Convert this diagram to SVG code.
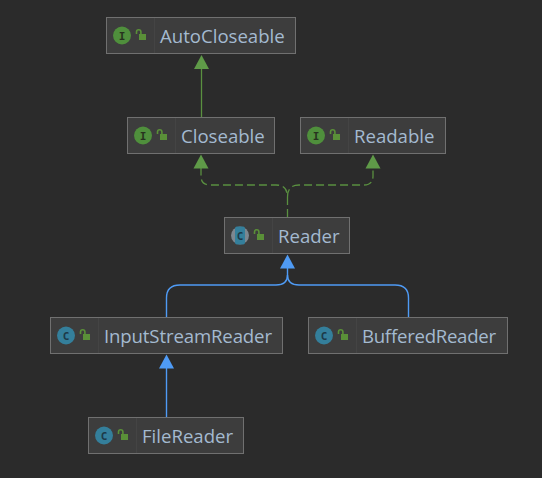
<svg xmlns="http://www.w3.org/2000/svg" width="542" height="478" viewBox="0 0 542 478">
<style>
.b{fill:#3d3d3d;stroke:#707070;stroke-width:1}
.sep{stroke:#444;stroke-width:1}
.t{font-family:"Open Sans","Noto Sans",sans-serif;font-size:18.6px;fill:#a4bad0}
.ci{fill:#4f8f3c}
.cc{fill:#347f9b}
.g{font-family:"DejaVu Sans Mono",monospace;font-size:11px;font-weight:bold;text-anchor:middle}
.gi{fill:#27321f}
.gc{fill:#1d3a4a}
.lk{fill:#5a9038}
.ls{fill:none;stroke:#5a9038;stroke-width:1.6}
.eg{fill:none;stroke:#5a9040;stroke-width:1.300}
.ed{fill:none;stroke:#5a9040;stroke-width:1.300;stroke-dasharray:8 4}
.eb{fill:none;stroke:#4f9bf5;stroke-width:1.400}
</style>
<defs>
<g id="lock"><rect x="3" y="4" width="7" height="6" class="lk"/><path d="M0.500 4V2a2.200 2.200 0 0 1 4.400 0V4" class="ls"/></g>
<polygon id="hg" points="0,0 7.500,14 -7.500,14" fill="#5f9a48"/>
<polygon id="hb" points="0,0 7.500,14 -7.500,14" fill="#4f9bf5"/>
</defs>
<rect width="542" height="478" fill="#2b2b2b"/>
<g id="connectors">
<path class="eg" d="M201.500 68V117"/>
<use href="#hg" x="201.500" y="55"/>
<path class="ed" d="M287.500 217V197Q287.500 185 276 185H210Q201 185 201 176V168"/>
<path class="ed" d="M287.500 197Q287.500 185 299 185H364Q373 185 373 176V168"/>
<use href="#hg" x="201" y="154.500"/>
<use href="#hg" x="373" y="154.500"/>
<path class="eb" d="M287.500 268V275Q287.500 285 276 285H180Q166.500 285 166.500 298V317"/>
<path class="eb" d="M287.500 275Q287.500 285 299 285H395Q408.500 285 408.500 298V317"/>
<use href="#hb" x="287.500" y="254.500"/>
<path class="eb" d="M166.500 368V417"/>
<use href="#hb" x="166.500" y="354.500"/>
</g>
<g id="node-autocloseable">
<rect class="b" x="106.500" y="17.500" width="189" height="36"/><path class="sep" d="M154.500 18V53"/>
<circle class="ci" cx="122" cy="35.500" r="9"/><text class="g gi" x="122" y="39.500">I</text>
<use href="#lock" x="136" y="30"/>
<text class="t" x="160" y="42.500">AutoCloseable</text>
</g>
<g id="node-closeable">
<rect class="b" x="127.500" y="117.500" width="147" height="36"/><path class="sep" d="M175.500 118V153"/>
<circle class="ci" cx="143" cy="135.500" r="9"/><text class="g gi" x="143" y="139.500">I</text>
<use href="#lock" x="157" y="130"/>
<text class="t" x="181" y="142.500">Closeable</text>
</g>
<g id="node-readable">
<rect class="b" x="300.500" y="117.500" width="145" height="36"/><path class="sep" d="M348.500 118V153"/>
<circle class="ci" cx="316" cy="135.500" r="9"/><text class="g gi" x="316" y="139.500">I</text>
<use href="#lock" x="330" y="130"/>
<text class="t" x="354" y="142.500">Readable</text>
</g>
<g id="node-reader">
<rect class="b" x="224.500" y="217.500" width="125" height="36"/><path class="sep" d="M272.500 218V253"/>
<circle cx="240" cy="235.500" r="9" fill="#7d8790"/><rect x="235" y="226.500" width="10" height="18" rx="2" class="cc"/>
<text class="g gc" x="240" y="239.500">C</text>
<use href="#lock" x="254" y="230"/>
<text class="t" x="278" y="242.500">Reader</text>
</g>
<g id="node-inputstreamreader">
<rect class="b" x="50.500" y="317.500" width="232" height="36"/><path class="sep" d="M98.500 318V353"/>
<circle class="cc" cx="66" cy="335.500" r="9"/><text class="g gc" x="66" y="339.500">C</text>
<use href="#lock" x="80" y="330"/>
<text class="t" x="104" y="342.500" textLength="168" lengthAdjust="spacing">InputStreamReader</text>
</g>
<g id="node-bufferedreader">
<rect class="b" x="308.500" y="317.500" width="199" height="36"/><path class="sep" d="M356.500 318V353"/>
<circle class="cc" cx="324" cy="335.500" r="9"/><text class="g gc" x="324" y="339.500">C</text>
<use href="#lock" x="338" y="330"/>
<text class="t" x="362" y="342.500" textLength="134" lengthAdjust="spacing">BufferedReader</text>
</g>
<g id="node-filereader">
<rect class="b" x="88.500" y="417.500" width="155" height="36"/><path class="sep" d="M136.500 418V453"/>
<circle class="cc" cx="104" cy="435.500" r="9"/><text class="g gc" x="104" y="439.500">C</text>
<use href="#lock" x="118" y="430"/>
<text class="t" x="142" y="442.500">FileReader</text>
</g>
</svg>
